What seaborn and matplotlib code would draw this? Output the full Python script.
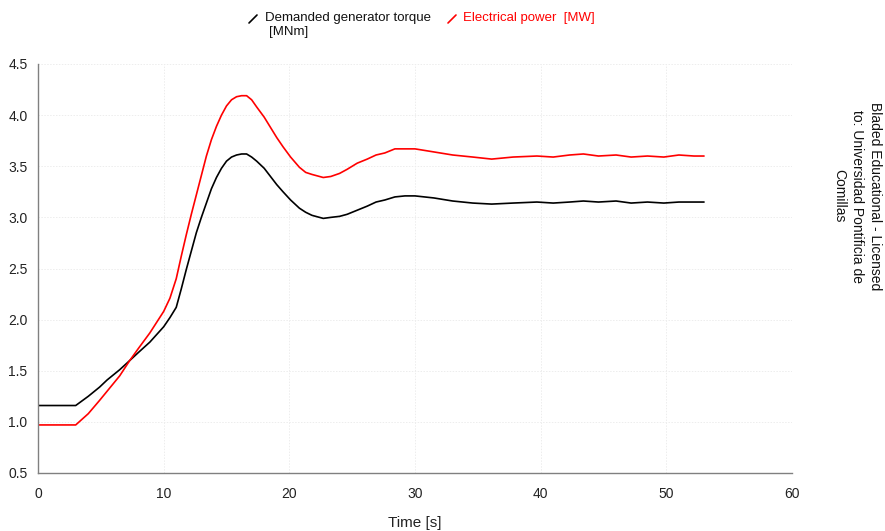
import matplotlib
matplotlib.use("Agg")
import matplotlib.pyplot as plt
from matplotlib.lines import Line2D
import pandas as pd
import seaborn as sns

# Simulation output: time base and the two channels
time_s = [0, 3, 4, 4.9, 5.5, 6.5, 7.3, 8, 8.9, 10, 10.5, 11, 11.4, 11.8, 12.2,
          12.6, 13, 13.4, 13.8, 14.2, 14.6, 15, 15.4, 15.8, 16.2, 16.6, 17,
          17.4, 18, 18.5, 19, 19.5, 20.1, 20.8, 21.3, 21.8, 22.7, 23.3, 24,
          24.6, 25.4, 26.2, 26.9, 27.6, 28.4, 29.2, 30, 31.5, 33, 34.6, 36.1,
          37.8, 39.7, 41, 42.3, 43.4, 44.6, 46, 47.2, 48.5, 49.8, 51, 52.2, 53]
torque_mnm = [1.16, 1.16, 1.25, 1.34, 1.41, 1.51, 1.60, 1.68, 1.78, 1.93, 2.02,
              2.12, 2.30, 2.49, 2.67, 2.85, 3.00, 3.14, 3.28, 3.39, 3.48, 3.55,
              3.59, 3.61, 3.62, 3.62, 3.59, 3.55, 3.48, 3.40, 3.32, 3.25, 3.17,
              3.09, 3.05, 3.02, 2.99, 3.00, 3.01, 3.03, 3.07, 3.11, 3.15, 3.17,
              3.20, 3.21, 3.21, 3.19, 3.16, 3.14, 3.13, 3.14, 3.15, 3.14, 3.15,
              3.16, 3.15, 3.16, 3.14, 3.15, 3.14, 3.15, 3.15, 3.15]
power_mw = [0.97, 0.97, 1.08, 1.21, 1.30, 1.45, 1.60, 1.72, 1.87, 2.08, 2.21,
            2.40, 2.62, 2.83, 3.03, 3.22, 3.41, 3.60, 3.76, 3.89, 4.00, 4.09,
            4.15, 4.18, 4.19, 4.19, 4.15, 4.08, 3.98, 3.88, 3.78, 3.69, 3.59,
            3.49, 3.44, 3.42, 3.39, 3.40, 3.43, 3.47, 3.53, 3.57, 3.61, 3.63,
            3.67, 3.67, 3.67, 3.64, 3.61, 3.59, 3.57, 3.59, 3.60, 3.59, 3.61,
            3.62, 3.60, 3.61, 3.59, 3.60, 3.59, 3.61, 3.60, 3.60]

series_names = ["Demanded generator torque\n[MNm]", "Electrical power  [MW]"]
series_colors = ["#000000", "#ff0000"]
x_ticks = [0, 10, 20, 30, 40, 50, 60]
y_ticks = [0.5, 1.0, 1.5, 2.0, 2.5, 3.0, 3.5, 4.0, 4.5]

df = pd.concat([
    pd.DataFrame({"t": time_s, "v": torque_mnm, "s": series_names[0]}),
    pd.DataFrame({"t": time_s, "v": power_mw, "s": series_names[1]}),
])

sns.set_style("white")
plt.rcParams["font.family"] = ["Liberation Sans", "DejaVu Sans"]

fig = plt.figure(figsize=(8.85, 5.31), dpi=100)
ax = fig.add_axes([38 / 885, 1 - 473 / 531, (792 - 38) / 885, (473 - 64) / 531])

sns.lineplot(data=df, x="t", y="v", hue="s", palette=series_colors,
             hue_order=series_names, sort=False, estimator=None,
             linewidth=1.2, legend=False, ax=ax)

ax.set_xlim(0, 60)
ax.set_ylim(0.5, 4.5)
ax.set_xticks(x_ticks)
ax.set_yticks(y_ticks)
ax.set_yticklabels([f"{v:.1f}" for v in y_ticks])
ax.grid(True, color="#ededed", linestyle=(0, (1.5, 1.5)), linewidth=0.7)

for side in ("top", "right"):
    ax.spines[side].set_visible(False)
for side in ("left", "bottom"):
    ax.spines[side].set_color("#808080")
    ax.spines[side].set_linewidth(1.0)

ax.tick_params(axis="x", direction="in", length=6, width=0.9, color="#444444",
               labelsize=10, labelcolor="#222222", pad=10)
ax.tick_params(axis="y", direction="inout", length=13, width=0.9, color="#808080",
               labelsize=10, labelcolor="#222222", pad=1)
ax.set_xlabel("Time [s]", fontsize=11, color="#222222", labelpad=11)
ax.set_ylabel("")

# Legend row above the axes
def legend_mark(x, y, color):
    fig.add_artist(Line2D([x / 885, (x + 8) / 885],
                          [1 - (y + 4) / 531, 1 - (y - 4) / 531],
                          color=color, linewidth=1.2, transform=fig.transFigure))

legend_mark(249, 19, series_colors[0])
fig.text(265 / 885, 1 - 12 / 531, "Demanded generator torque", fontsize=9.5,
         color="#111111", va="top", ha="left")
fig.text(269 / 885, 1 - 26 / 531, "[MNm]", fontsize=9.5,
         color="#111111", va="top", ha="left")
legend_mark(448, 19, series_colors[1])
fig.text(463 / 885, 1 - 12 / 531, series_names[1], fontsize=9.5,
         color=series_colors[1], va="top", ha="left")

fig.text(857 / 885, 1 - 196 / 531,
         "Bladed Educational - Licensed\nto: Universidad Pontificia de\nComillas",
         rotation=270, fontsize=10, color="#111111", ha="center", va="center",
         multialignment="center", linespacing=1.35)

fig.savefig("out.png", dpi=100)
